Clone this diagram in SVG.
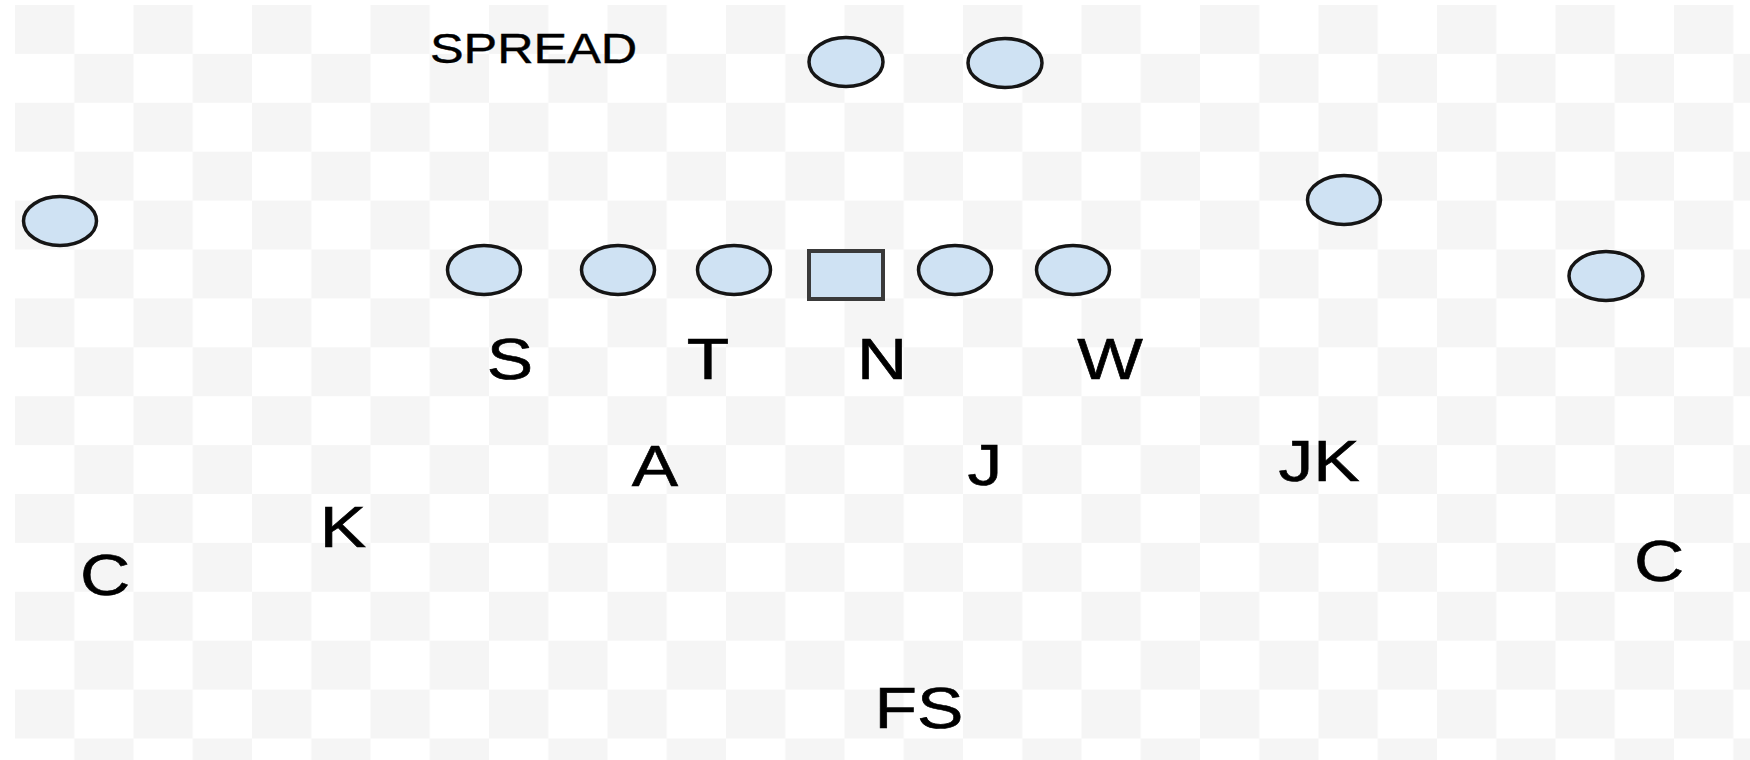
<svg xmlns="http://www.w3.org/2000/svg" width="1750" height="760" viewBox="0 0 1750 760">
<style>
.p{fill:#cfe2f3;stroke:#151515;stroke-width:3.5}
.c{fill:#cfe2f3;stroke:#3a3a3a;stroke-width:4}
.l{font-family:"Liberation Sans",Arial,sans-serif;font-size:57px;fill:#000;stroke:#000;stroke-width:0.6;text-anchor:middle}
.t{font-family:"Liberation Sans",Arial,sans-serif;font-size:42px;fill:#000;stroke:#000;stroke-width:0.4}
</style>
<defs>
<pattern id="cb" x="15" y="5" width="118.5" height="97.8" patternUnits="userSpaceOnUse">
<rect x="0" y="0" width="59.25" height="48.9" fill="#f5f5f5"/>
<rect x="59.25" y="48.9" width="59.25" height="48.9" fill="#f5f5f5"/>
</pattern>
</defs>
<rect width="1750" height="760" fill="#ffffff"/>
<rect x="15" y="5" width="1735" height="755" fill="url(#cb)"/>
<g id="connectors"/>
<g id="offense">
<g id="o-wr-left"><ellipse class="p" cx="60" cy="221" rx="36.5" ry="24.5"/></g>
<g id="o-back-1"><ellipse class="p" cx="846" cy="62" rx="37" ry="24.5"/></g>
<g id="o-back-2"><ellipse class="p" cx="1005" cy="63" rx="37" ry="24.5"/></g>
<g id="o-line-1"><ellipse class="p" cx="484" cy="270" rx="36.5" ry="24.5"/></g>
<g id="o-line-2"><ellipse class="p" cx="618" cy="270" rx="36.5" ry="24.5"/></g>
<g id="o-line-3"><ellipse class="p" cx="734" cy="270" rx="36.5" ry="24.5"/></g>
<g id="o-center"><rect class="c" x="809" y="251" width="74" height="48"/></g>
<g id="o-line-4"><ellipse class="p" cx="955" cy="270" rx="36.5" ry="24.5"/></g>
<g id="o-line-5"><ellipse class="p" cx="1073" cy="270" rx="36.5" ry="24.5"/></g>
<g id="o-slot-right"><ellipse class="p" cx="1344" cy="200" rx="36.5" ry="24.5"/></g>
<g id="o-wr-right"><ellipse class="p" cx="1606" cy="276" rx="37" ry="24.5"/></g>
</g>
<g id="title"><text class="t" transform="translate(430,63) scale(1.2,1)">SPREAD</text></g>
<g id="defense">
<g id="d-S"><text class="l" transform="translate(510,379) scale(1.22,1)">S</text></g>
<g id="d-T"><text class="l" transform="translate(708,379) scale(1.22,1)">T</text></g>
<g id="d-N"><text class="l" transform="translate(882,379) scale(1.22,1)">N</text></g>
<g id="d-W"><text class="l" transform="translate(1110,379) scale(1.22,1)">W</text></g>
<g id="d-A"><text class="l" transform="translate(655,486) scale(1.22,1)">A</text></g>
<g id="d-J"><text class="l" transform="translate(985,485) scale(1.22,1)">J</text></g>
<g id="d-JK"><text class="l" transform="translate(1319,481) scale(1.22,1)">JK</text></g>
<g id="d-K"><text class="l" transform="translate(343,547) scale(1.22,1)">K</text></g>
<g id="d-C-left"><text class="l" transform="translate(105,595) scale(1.22,1)">C</text></g>
<g id="d-C-right"><text class="l" transform="translate(1659,581) scale(1.22,1)">C</text></g>
<g id="d-FS"><text class="l" transform="translate(919,728) scale(1.22,1)">FS</text></g>
</g>
</svg>
